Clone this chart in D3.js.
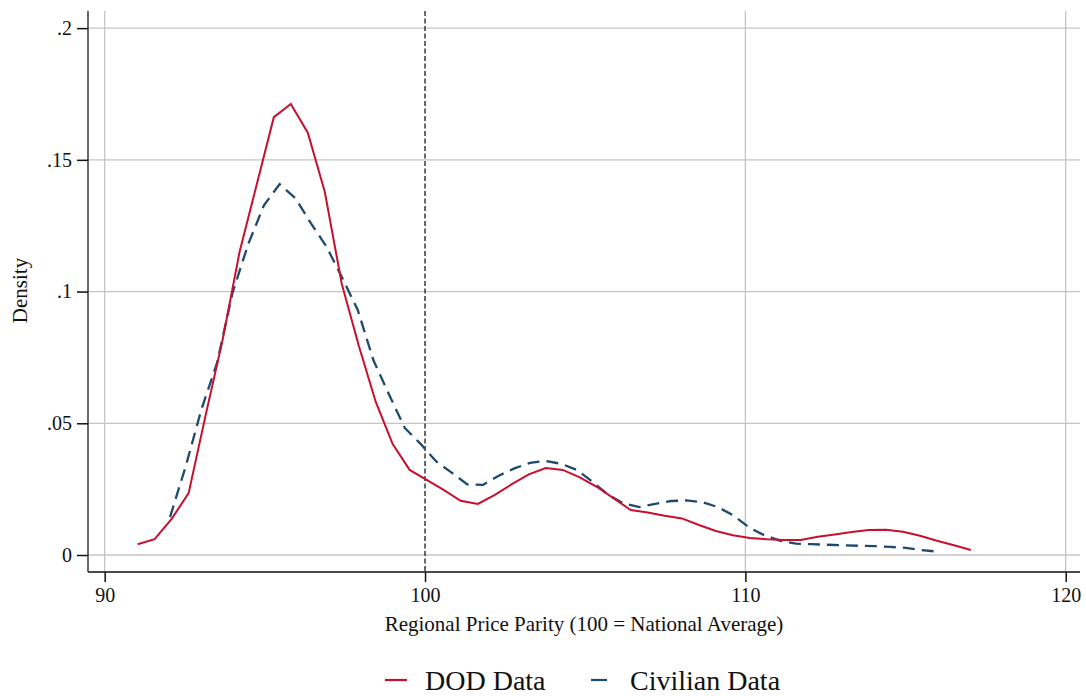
<!DOCTYPE html>
<html>
<head>
<meta charset="utf-8">
<script src="https://cdn.jsdelivr.net/npm/d3@7"></script>
<style>
  body { margin: 0; background: #fff; }
  text { font-family: "Liberation Serif", "Times New Roman", serif; fill: #111; }
</style>
</head>
<body>
<svg id="chart"></svg>
<script>
// density estimates
const dodX = [91.03, 91.56, 92.09, 92.62, 93.15, 93.68, 94.21, 94.75, 95.28, 95.81,
              96.34, 96.87, 97.40, 97.93, 98.46, 98.99, 99.52, 100.05, 100.58, 101.11,
              101.65, 102.18, 102.71, 103.24, 103.77, 104.30, 104.83, 105.36, 105.89, 106.42,
              106.95, 107.48, 108.02, 108.55, 109.08, 109.61, 110.14, 110.67, 111.20, 111.73,
              112.26, 112.79, 113.32, 113.85, 114.39, 114.92, 115.45, 115.98, 116.51, 117.04];
const dodY = [0.0041, 0.0060, 0.0137, 0.0235, 0.0530, 0.0816, 0.1150, 0.1408, 0.1662, 0.1712,
              0.1603, 0.1379, 0.1030, 0.0795, 0.0582, 0.0421, 0.0323, 0.0285, 0.0247, 0.0206,
              0.0194, 0.0228, 0.0269, 0.0306, 0.0330, 0.0323, 0.0295, 0.0259, 0.0215, 0.0171,
              0.0161, 0.0149, 0.0139, 0.0114, 0.0091, 0.0075, 0.0065, 0.0060, 0.0057, 0.0057,
              0.0069, 0.0078, 0.0087, 0.0095, 0.0096, 0.0088, 0.0073, 0.0054, 0.0037, 0.0019];

const civX = [92.04, 92.53, 93.02, 93.51, 93.99, 94.48, 94.97, 95.46, 95.95, 96.44,
              96.93, 97.41, 97.90, 98.39, 98.88, 99.37, 99.86, 100.35, 100.83, 101.32,
              101.81, 102.30, 102.79, 103.28, 103.77, 104.26, 104.74, 105.23, 105.72, 106.21,
              106.70, 107.19, 107.68, 108.16, 108.65, 109.14, 109.63, 110.12, 110.61, 111.10,
              111.58, 112.07, 112.56, 113.05, 113.54, 114.03, 114.52, 115.00, 115.49, 115.98];
const civY = [0.0144, 0.0337, 0.0553, 0.0730, 0.0995, 0.1180, 0.1327, 0.1408, 0.1355, 0.1259,
              0.1169, 0.1053, 0.0930, 0.0739, 0.0608, 0.0482, 0.0422, 0.0355, 0.0313, 0.0268,
              0.0266, 0.0301, 0.0329, 0.0350, 0.0357, 0.0346, 0.0323, 0.0278, 0.0228, 0.0195,
              0.0182, 0.0194, 0.0205, 0.0207, 0.0201, 0.0182, 0.0150, 0.0104, 0.0074, 0.0054,
              0.0043, 0.0041, 0.0039, 0.0037, 0.0035, 0.0034, 0.0031, 0.0027, 0.0019, 0.0013];

const xTicks = [90, 100, 110, 120];
const yTicks = [0, 0.05, 0.1, 0.15, 0.2];
const yTickLabels = ["0", ".05", ".1", ".15", ".2"];
const refLine = 100;
const seriesNames = ["DOD Data", "Civilian Data"];

const width = 1086;
const height = 696;
const plotLeft = 88, plotRight = 1080, plotTop = 11, plotBottom = 572;
const serif = "'Liberation Serif', 'Times New Roman', serif";

var svg = d3.select("#chart")
              .attr("width", width)
              .attr("height", height);

var x = d3.scaleLinear()
            .domain([89.479, 120.446])
            .range([plotLeft, plotRight]);

var y = d3.scaleLinear()
            .domain([-0.00645, 0.2065])
            .range([plotBottom, plotTop]);

// グリッド
svg.selectAll(".hgrid")
    .data(yTicks)
    .enter().append("line")
    .attr("x1", plotLeft).attr("x2", plotRight)
    .attr("y1", d => y(d)).attr("y2", d => y(d))
    .attr("stroke", "#c4c4c4")
    .attr("stroke-width", 1.3);

svg.selectAll(".vgrid")
    .data(xTicks.filter(d => d !== refLine))
    .enter().append("line")
    .attr("x1", d => x(d)).attr("x2", d => x(d))
    .attr("y1", plotTop).attr("y2", plotBottom)
    .attr("stroke", "#c4c4c4")
    .attr("stroke-width", 1.3);

// 100 の基準線
svg.append("line")
    .attr("x1", x(refLine)).attr("x2", x(refLine))
    .attr("y1", plotTop).attr("y2", plotBottom)
    .attr("stroke", "#444")
    .attr("stroke-width", 1.6)
    .attr("stroke-dasharray", "5,2.5");

// 軸
var xAxis = d3.axisBottom(x)
                .tickValues(xTicks)
                .tickSize(10)
                .tickPadding(6);

var yAxis = d3.axisLeft(y)
                .tickValues(yTicks)
                .tickFormat((d, i) => yTickLabels[i])
                .tickSize(11)
                .tickPadding(5);

var gx = svg.append("g")
    .attr("transform", "translate(0," + plotBottom + ")")
    .call(xAxis);
gx.select(".domain").attr("d", "M" + plotLeft + ",0H" + plotRight).attr("stroke", "#111").attr("stroke-width", 1.6);
gx.selectAll(".tick line").attr("stroke", "#111").attr("stroke-width", 1.5);
gx.selectAll(".tick text")
    .style("font-family", serif)
    .style("font-size", "20px")
    .style("fill", "#111");

var gy = svg.append("g")
    .attr("transform", "translate(" + plotLeft + ",0)")
    .call(yAxis);
gy.select(".domain").attr("d", "M0," + plotTop + "V" + plotBottom).attr("stroke", "#444").attr("stroke-width", 1.6);
gy.selectAll(".tick line").attr("stroke", "#111").attr("stroke-width", 1.5);
gy.selectAll(".tick text")
    .style("font-family", serif)
    .style("font-size", "20px")
    .style("fill", "#111");

// 曲線
var line = d3.line()
               .x(d => x(d[0]))
               .y(d => y(d[1]));

svg.append("path")
    .datum(civX.map((d, i) => [d, civY[i]]))
    .attr("d", line)
    .attr("fill", "none")
    .attr("stroke", "#1f4a6e")
    .attr("stroke-width", 2.3)
    .attr("stroke-dasharray", "12,7");

svg.append("path")
    .datum(dodX.map((d, i) => [d, dodY[i]]))
    .attr("d", line)
    .attr("fill", "none")
    .attr("stroke", "#c8102e")
    .attr("stroke-width", 2);

// 軸タイトル
svg.append("text")
    .attr("x", (plotLeft + plotRight) / 2)
    .attr("y", 631)
    .attr("text-anchor", "middle")
    .style("font-size", "21px")
    .text("Regional Price Parity (100 = National Average)");

svg.append("text")
    .attr("transform", "translate(27," + ((plotTop + plotBottom) / 2 - 1) + ") rotate(-90)")
    .attr("text-anchor", "middle")
    .style("font-size", "21px")
    .text("Density");

// 凡例
var legend = svg.append("g");
var legendItems = [
    {name: seriesNames[0], color: "#c8102e", dash: null, x0: 385, tx: 425},
    {name: seriesNames[1], color: "#1f4a6e", dash: "16,20", x0: 591, tx: 630}
];
legendItems.forEach(function(d) {
    legend.append("line")
        .attr("x1", d.x0).attr("x2", d.x0 + 22)
        .attr("y1", 680).attr("y2", 680)
        .attr("stroke", d.color)
        .attr("stroke-width", 2.2)
        .attr("stroke-dasharray", d.dash);
    legend.append("text")
        .attr("x", d.tx)
        .attr("y", 690)
        .style("font-size", "28px")
        .text(d.name);
});
</script>
</body>
</html>
